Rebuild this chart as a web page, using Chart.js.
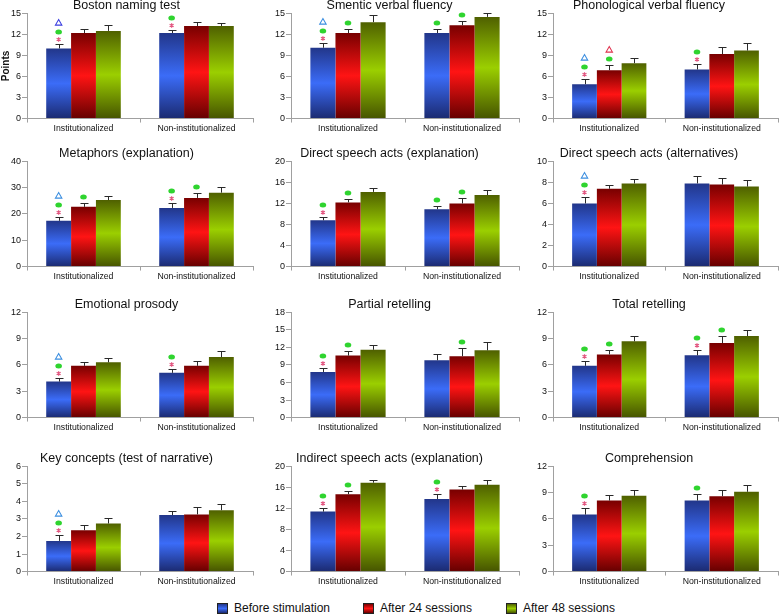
<!DOCTYPE html>
<html>
<head>
<meta charset="utf-8">
<script src="https://cdn.jsdelivr.net/npm/chart.js@4.4.1/dist/chart.umd.min.js"></script>
<style>
    body { margin: 0; background: #fff; width: 779px; height: 616px; overflow: hidden; position: relative; font-family: 'Liberation Sans', Arial, sans-serif; }
    canvas { position: absolute; }
    .legend-item { position: absolute; top: 601px; font-size: 12px; color: #111; display: flex; align-items: center; white-space: nowrap; }
    .swatch { width: 9px; height: 9px; border: 1px solid #222; margin-right: 6px; }
</style>
</head>
<body>
<div id="legend"></div>
<script>
const categories = ['Institutionalized', 'Non-institutionalized'];
const seriesLabels = ['Before stimulation', 'After 24 sessions', 'After 48 sessions'];

const panelTitles = [
    'Boston naming test', 'Smentic verbal fluency', 'Phonological verbal fluency',
    'Metaphors (explanation)', 'Direct speech acts (explanation)', 'Direct speech acts (alternatives)',
    'Emotional prosody', 'Partial retelling', 'Total retelling',
    'Key concepts (test of narrative)', 'Indirect speech acts (explanation)', 'Comprehension'
];
const yMax = [15, 15, 15, 40, 20, 10, 12, 18, 12, 6, 20, 12];
const yStep = [3, 3, 3, 5, 4, 2, 3, 3, 3, 1, 4, 3];

// [Institutionalized, Non-institutionalized] per panel
const beforeValues = [
    [10.0, 12.2], [10.1, 12.2], [4.9, 7.0],
    [17.4, 22.3], [8.8, 10.9], [6.0, 7.9],
    [4.1, 5.1], [7.8, 9.8], [5.9, 7.1],
    [1.75, 3.22], [11.4, 13.8], [6.5, 8.1]
];
const after24Values = [
    [12.2, 13.2], [12.2, 13.3], [6.9, 9.2],
    [22.7, 26.1], [12.2, 12.0], [7.4, 7.8],
    [5.9, 5.9], [10.6, 10.5], [7.2, 8.5],
    [2.36, 3.26], [14.7, 15.6], [8.1, 8.6]
];
const after48Values = [
    [12.5, 13.2], [13.75, 14.5], [7.9, 9.7],
    [25.3, 28.1], [14.2, 13.6], [7.9, 7.6],
    [6.3, 6.9], [11.6, 11.5], [8.7, 9.3],
    [2.74, 3.5], [16.9, 16.5], [8.65, 9.1]
];
const beforeErrors = [
    [0.6, 0.5], [0.7, 0.6], [0.7, 0.8],
    [1.6, 1.75], [0.7, 0.65], [0.65, 0.75],
    [0.4, 0.4], [0.7, 1.1], [0.55, 0.65],
    [0.33, 0.23], [0.75, 0.95], [0.7, 0.7]
];
const after24Errors = [
    [0.55, 0.5], [0.6, 0.65], [0.8, 1.05],
    [1.6, 1.75], [0.65, 0.95], [0.4, 0.6],
    [0.45, 0.55], [0.75, 1.35], [0.55, 0.85],
    [0.3, 0.4], [0.65, 0.65], [0.6, 0.75]
];
const after48Errors = [
    [0.8, 0.45], [0.95, 0.6], [0.75, 1.1],
    [1.65, 2.3], [0.65, 0.95], [0.4, 0.65],
    [0.55, 0.7], [0.8, 1.4], [0.6, 0.7],
    [0.3, 0.38], [0.5, 0.9], [0.6, 0.8]
];
// * = asterisk, o = green dot, B/b = blue triangle, r = red triangle
const beforeMarks = [
    ['*oB', '*o'], ['*ob', 'o'], ['*ob', '*o'],
    ['*ob', '*o'], ['*o', 'o'], ['*ob', ''],
    ['*ob', '*o'], ['*o', ''], ['*o', '*o'],
    ['*ob', ''], ['*o', '*o'], ['*o', 'o']
];
const after24Marks = [
    ['', ''], ['o', 'o'], ['or', ''],
    ['o', 'o'], ['o', 'o'], ['', ''],
    ['', ''], ['o', 'o'], ['o', 'o'],
    ['', ''], ['o', ''], ['', '']
];
const after48Marks = [
    ['', ''], ['', ''], ['', ''],
    ['', ''], ['', ''], ['', ''],
    ['', ''], ['', ''], ['', ''],
    ['', ''], ['', ''], ['', '']
];

const gradientStops = [
    ['#22368a', '#3b6cf8', '#1b2a70'],
    ['#780000', '#ff1414', '#650000'],
    ['#4f6000', '#9bcf00', '#465400']
];

const colLeft = [0, 260, 520];
const colWidth = [260, 260, 259];
const axisWidth = [27, 31, 33];
const padRight = [7, 1, 1];
const rowTop = [-2, 146, 297, 451];
const canvasHeight = 137;
const fontFamily = "'Liberation Sans', Arial, sans-serif";

function barGradient(stops) {
    return (context) => {
        const chart = context.chart;
        if (!chart.chartArea || context.type !== 'data' || !chart.scales.y) return stops[1];
        const y = chart.scales.y;
        const top = y.getPixelForValue(context.raw);
        const base = y.getPixelForValue(0);
        const g = chart.ctx.createLinearGradient(0, top, 0, base);
        g.addColorStop(0, stops[0]);
        g.addColorStop(0.5, stops[1]);
        g.addColorStop(1, stops[2]);
        return g;
    };
}

function drawMark(ctx, mark, x, y) {
    ctx.save();
    if (mark === '*') {
        ctx.strokeStyle = '#e2557f';
        ctx.lineWidth = 1.2;
        ctx.beginPath();
        for (let k = 0; k < 3; k++) {
            const a = Math.PI / 2 + k * Math.PI / 3;
            ctx.moveTo(x - 2.3 * Math.cos(a), y - 2.3 * Math.sin(a));
            ctx.lineTo(x + 2.3 * Math.cos(a), y + 2.3 * Math.sin(a));
        }
        ctx.stroke();
    } else if (mark === 'o') {
        ctx.fillStyle = '#2fd42f';
        ctx.beginPath();
        ctx.ellipse(x, y, 3.3, 2.5, 0, 0, Math.PI * 2);
        ctx.fill();
    } else {
        ctx.strokeStyle = mark === 'r' ? '#e0334f' : (mark === 'B' ? '#3b3fe0' : '#3b8ee0');
        ctx.lineWidth = 1.1;
        ctx.beginPath();
        ctx.moveTo(x, y - 3);
        ctx.lineTo(x + 3.2, y + 2.6);
        ctx.lineTo(x - 3.2, y + 2.6);
        ctx.closePath();
        ctx.stroke();
    }
    ctx.restore();
}

const gapBefore = { '*': 4.5, 'o': 7.5, 'b': 9.5, 'B': 9.5, 'r': 9.5 };

const errorBarPlugin = {
    id: 'errorBars',
    afterDatasetsDraw(chart) {
        const ctx = chart.ctx;
        const y = chart.scales.y;
        chart.data.datasets.forEach((ds, i) => {
            const meta = chart.getDatasetMeta(i);
            meta.data.forEach((bar, j) => {
                const top = Math.round(y.getPixelForValue(ds.data[j] + ds.errors[j]));
                const x = Math.round(bar.x) + 0.5;
                ctx.save();
                ctx.strokeStyle = '#2a2a2a';
                ctx.lineWidth = 1;
                ctx.beginPath();
                ctx.moveTo(x, bar.y);
                ctx.lineTo(x, top);
                ctx.moveTo(x - 4, top + 0.5);
                ctx.lineTo(x + 4, top + 0.5);
                ctx.stroke();
                ctx.restore();

                let my = top;
                const marks = ds.marks[j];
                for (let k = 0; k < marks.length; k++) {
                    const m = marks[k];
                    my -= (k === 0 && m === 'o') ? 6 : gapBefore[m];
                    drawMark(ctx, m, bar.x, my);
                }
            });
        });
    }
};

function createPanel(index) {
    const col = index % 3;
    const row = Math.floor(index / 3);
    const canvas = document.createElement('canvas');
    canvas.width = colWidth[col];
    canvas.height = canvasHeight;
    canvas.style.left = colLeft[col] + 'px';
    canvas.style.top = rowTop[row] + 'px';
    document.body.appendChild(canvas);

    const values = [beforeValues[index], after24Values[index], after48Values[index]];
    const errors = [beforeErrors[index], after24Errors[index], after48Errors[index]];
    const marks = [beforeMarks[index], after24Marks[index], after48Marks[index]];

    new Chart(canvas.getContext('2d'), {
        type: 'bar',
        data: {
            labels: categories,
            datasets: seriesLabels.map((label, s) => ({
                label: label,
                data: values[s],
                errors: errors[s],
                marks: marks[s],
                backgroundColor: barGradient(gradientStops[s]),
                borderWidth: 0,
                categoryPercentage: 0.66,
                barPercentage: 1.0
            }))
        },
        options: {
            responsive: false,
            animation: false,
            layout: { padding: { left: 0, right: padRight[col], top: 0, bottom: 0 } },
            plugins: {
                legend: { display: false },
                tooltip: { enabled: false },
                title: {
                    display: true,
                    text: panelTitles[index],
                    color: '#111',
                    font: { family: fontFamily, size: 12.5, weight: 'normal', lineHeight: 1.15 },
                    padding: { top: 0, bottom: 1 }
                }
            },
            scales: {
                x: {
                    offset: true,
                    grid: { offset: true, drawOnChartArea: false, tickLength: 4, color: '#a0a0a0' },
                    border: { color: '#a0a0a0' },
                    ticks: { color: '#111', padding: 1, maxRotation: 0, font: { family: fontFamily, size: 8.7 } }
                },
                y: {
                    min: 0,
                    max: yMax[index],
                    ticks: { stepSize: yStep[index], color: '#111', padding: 1, font: { family: fontFamily, size: 9 } },
                    grid: { drawOnChartArea: false, tickLength: 5, color: '#a0a0a0' },
                    border: { color: '#a0a0a0' },
                    title: {
                        display: index === 0,
                        text: 'Points',
                        color: '#111',
                        padding: 0,
                        font: { family: fontFamily, size: 10, weight: 'bold' }
                    },
                    afterFit: (scale) => { scale.width = axisWidth[col]; }
                }
            }
        },
        plugins: [errorBarPlugin]
    });
}

function buildLegend() {
    const legend = document.getElementById('legend');
    const lefts = [217, 363, 506];
    seriesLabels.forEach((label, s) => {
        const item = document.createElement('div');
        item.className = 'legend-item';
        item.style.left = lefts[s] + 'px';
        const sw = document.createElement('span');
        sw.className = 'swatch';
        const st = gradientStops[s];
        sw.style.background = `linear-gradient(${st[0]}, ${st[1]}, ${st[2]})`;
        item.appendChild(sw);
        item.appendChild(document.createTextNode(label));
        legend.appendChild(item);
    });
}

panelTitles.forEach((t, i) => createPanel(i));
buildLegend();
</script>
</body>
</html>
